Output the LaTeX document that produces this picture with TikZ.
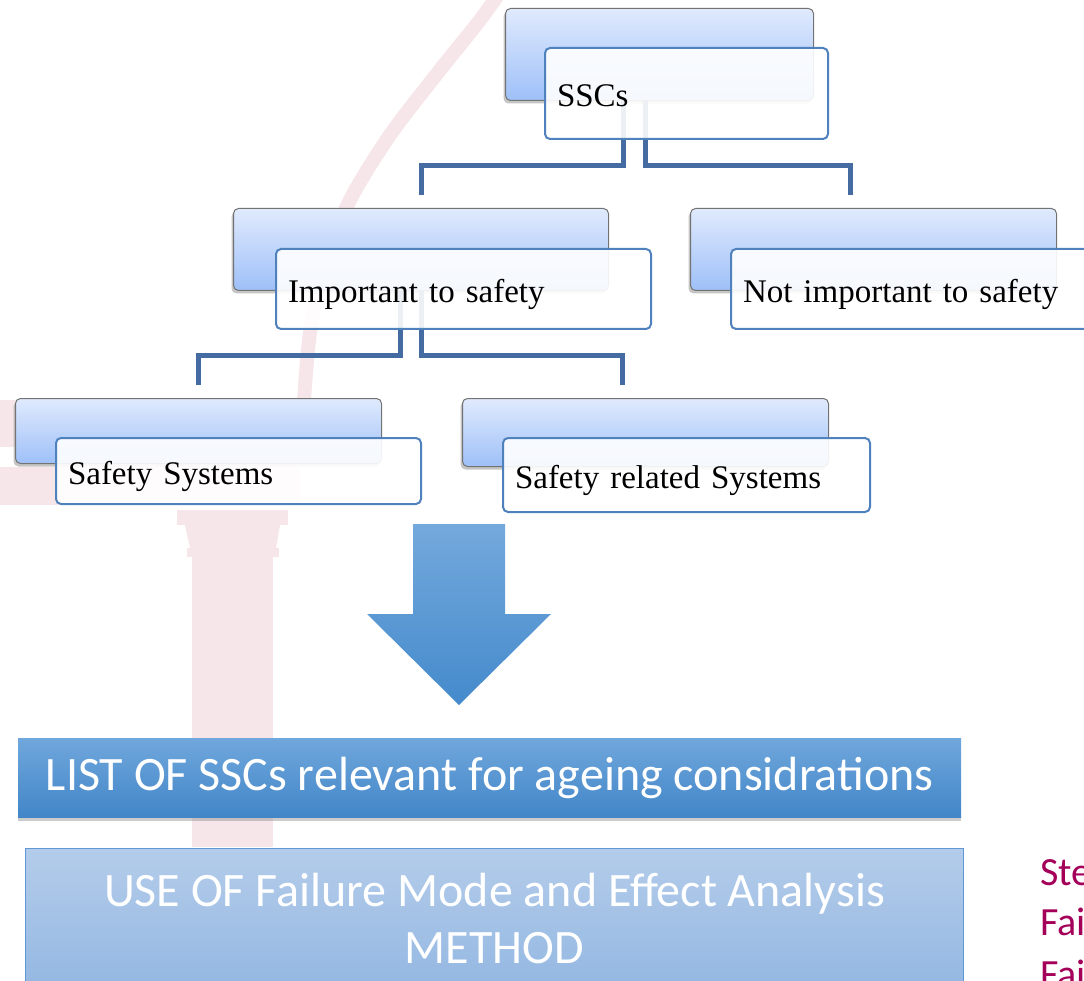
\documentclass[tikz,border=0pt]{standalone}
\usepackage{fontspec}
\setmainfont[WordSpace=0.8]{Liberation Serif}
\newfontfamily\calibri{Carlito}
\usepackage{tikz}
\usetikzlibrary{shadows}

\definecolor{linkblue}{RGB}{68,108,162}
\definecolor{frameblue}{RGB}{79,129,189}
\definecolor{backtop}{RGB}{224,234,253}
\definecolor{backbottom}{RGB}{158,192,248}
\definecolor{arrowtop}{RGB}{116,169,220}
\definecolor{arrowbottom}{RGB}{68,138,204}
\definecolor{listtop}{RGB}{112,167,220}
\definecolor{listbottom}{RGB}{66,134,200}
\definecolor{usetop}{RGB}{180,204,234}
\definecolor{usebottom}{RGB}{148,184,226}
\definecolor{useframe}{RGB}{96,152,214}
\definecolor{marktint}{RGB}{246,230,234}
\definecolor{stepred}{RGB}{164,0,90}

\tikzset{
  backbox/.style={draw=gray!90!black, line width=1pt, rounded corners=5pt,
    top color=backtop, bottom color=backbottom, anchor=north west, inner sep=0pt,
    drop shadow={shadow xshift=-2pt, shadow yshift=-3pt, opacity=0.45}},
  frontbox/.style={draw=frameblue, line width=2pt, rounded corners=5pt,
    fill=white, fill opacity=0.9, text opacity=1, anchor=north west,
    inner xsep=12pt, inner ysep=0pt, text height=27pt, text depth=0pt,
    align=left, font=\fontsize{33}{40}\selectfont},
  link/.style={draw=linkblue, line width=5pt},
  listbox/.style={anchor=north west, inner sep=0pt, top color=listtop, bottom color=listbottom,
    text=white, font=\calibri\fontsize{48}{58}\selectfont,
    drop shadow={shadow xshift=0pt, shadow yshift=-4pt, opacity=0.4}},
  usebox/.style={anchor=north west, inner sep=0pt, draw=useframe, line width=1pt,
    top color=usetop, bottom color=usebottom, text=white, align=center,
    font=\calibri\fontsize{48}{57}\selectfont},
  steptext/.style={anchor=base west, inner sep=0pt, text=stepred,
    font=\calibri\fontsize{40}{48}\selectfont},
}

\begin{document}
\begin{tikzpicture}[x=1pt, y=-1pt]
        \useasboundingbox (0,0) rectangle (1084,981);
        \clip (0,0) rectangle (1084,981);
        \fill[white] (0,0) rectangle (1084,981);

        % Logo in the background
        \fill[marktint] (0,400) rectangle (300,447);
        \fill[marktint] (0,467) rectangle (300,505);
        \draw[marktint, line width=14pt] plot[smooth] coordinates
            {(505,-15) (480,20) (440,70) (390,135) (350,200) (323,267) (310,333) (304,400) (303,430)};
        \fill[marktint] (177,510) rectangle (288,525);
        \fill[marktint] (185,525) -- (280,525) -- (276,548) -- (190,548) -- cycle;
        \fill[marktint] (187,548) rectangle (279,557);
        \fill[marktint] (192,557) rectangle (273,847);

        % Nodes (back boxes)
        \node[backbox, minimum width=308pt, minimum height=92pt] (ssc-back) at (505,8) {};
        \node[backbox, minimum width=375pt, minimum height=82pt] (imp-back) at (233,208) {};
        \node[backbox, minimum width=366pt, minimum height=82pt] (notimp-back) at (690,208) {};
        \node[backbox, minimum width=366pt, minimum height=65pt] (safsys-back) at (15,398) {};
        \node[backbox, minimum width=366pt, minimum height=68pt] (safrel-back) at (462,398) {};

        % Edges
        \draw[link] ([xshift=-36pt]ssc-back.south) -- ++(0,65) -| ([yshift=13pt]imp-back.north);
        \draw[link] ([xshift=-14pt]ssc-back.south) -- ++(0,65) -| ([xshift=-23pt, yshift=13pt]notimp-back.north);
        \draw[link] ([xshift=-21pt]imp-back.south) -- ++(0,65) -| ([yshift=13pt]safsys-back.north);
        \draw[link] (imp-back.south) -- ++(0,65) -| ([xshift=-23pt, yshift=13pt]safrel-back.north);

        % Nodes (front boxes)
        \node[frontbox, text width=259pt, minimum height=91pt] (ssc) at (544,47) {SSCs};
        \node[frontbox, text width=351pt, minimum height=80pt] (imp) at (275,248) {Important to safety};
        \node[frontbox, text width=356pt, minimum height=80pt] (notimp) at (730,248) {Not important to safety};
        \node[frontbox, text width=341pt, minimum height=66pt] (safsys) at (55,437) {Safety Systems};
        \node[frontbox, text width=343pt, minimum height=74pt] (safrel) at (502,437) {Safety related Systems};

        % Block arrow
        \shade[top color=arrowtop, bottom color=arrowbottom]
            (413,524) -- (505,524) -- (505,614) -- (551,614) -- (459,705) -- (367,614) -- (413,614) -- cycle;

        % Results
        \node[listbox, minimum width=943pt, minimum height=79pt] (list) at (18,738)
            {LIST OF SSCs relevant for ageing considrations};
        \node[usebox, minimum width=938pt, minimum height=139pt] (use) at (25,848)
            {USE OF Failure Mode and Effect Analysis\\METHOD};

        % Side text
        \node[steptext] (ste) at (1040,885) {Ste};
        \node[steptext] (fai-a) at (1040,935) {Fai};
        \node[steptext] (fai-b) at (1040,987) {Fai};
\end{tikzpicture}
\end{document}
